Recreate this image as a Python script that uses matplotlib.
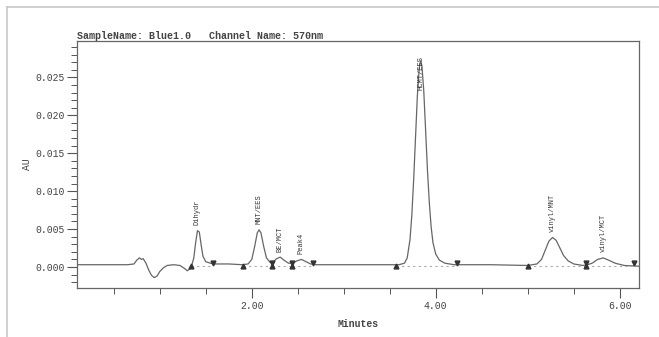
import matplotlib.pyplot as plt
from matplotlib.lines import Line2D

# ---- data ----
time_min = [0.10, 0.40, 0.65, 0.72, 0.75, 0.78, 0.80, 0.82, 0.85, 0.88, 0.91, 0.94, 0.97, 1.00,
            1.04, 1.08, 1.15, 1.22, 1.27, 1.30, 1.33, 1.35, 1.37, 1.39, 1.41, 1.43, 1.45, 1.47,
            1.50, 1.55, 1.60, 1.75, 1.90, 1.96, 2.00, 2.03, 2.06, 2.08, 2.10, 2.13, 2.16, 2.20,
            2.23, 2.27, 2.31, 2.35, 2.40, 2.44, 2.49, 2.54, 2.59, 2.64, 2.70, 3.00, 3.30, 3.60,
            3.66, 3.69, 3.72, 3.74, 3.76, 3.78, 3.80, 3.82, 3.835, 3.85, 3.87, 3.89, 3.91, 3.93,
            3.95, 3.97, 4.00, 4.04, 4.10, 4.20, 4.60, 5.00, 5.10, 5.15, 5.19, 5.23, 5.27, 5.31,
            5.35, 5.39, 5.44, 5.50, 5.60, 5.65, 5.70, 5.76, 5.82, 5.88, 5.95, 6.05, 6.21]
au = [0.0003, 0.0003, 0.0003, 0.0004, 0.0009, 0.0012, 0.0010, 0.0011, 0.0005, -0.0004, -0.0011,
      -0.0014, -0.0012, -0.0006, -0.0001, 0.0002, 0.0003, 0.0002, -0.0002, -0.0005, -0.0002,
      0.0003, 0.0012, 0.0032, 0.0048, 0.0046, 0.0029, 0.0014, 0.0007, 0.0005, 0.0004, 0.0004,
      0.0003, 0.0004, 0.0010, 0.0026, 0.0045, 0.0049, 0.0045, 0.0027, 0.0012, 0.0006, 0.0006,
      0.0011, 0.0013, 0.0009, 0.0005, 0.0005, 0.0008, 0.0010, 0.0007, 0.0004, 0.0003, 0.0003,
      0.0003, 0.0003, 0.0005, 0.0012, 0.0036, 0.0068, 0.0115, 0.0170, 0.0225, 0.0262, 0.0272,
      0.0265, 0.0232, 0.0180, 0.0128, 0.0085, 0.0053, 0.0032, 0.0017, 0.0009, 0.0005, 0.0003,
      0.0003, 0.0002, 0.0004, 0.0010, 0.0022, 0.0034, 0.0039, 0.0035, 0.0025, 0.0015, 0.0008,
      0.0004, 0.0002, 0.0003, 0.0005, 0.0010, 0.0012, 0.0009, 0.0005, 0.0002, 0.0001]

peak_names = ["Dihydr", "MNT/EES", "BE/MCT", "Peak4", "HCMT/EES", "vinyl/MNT", "vinyl/MCT"]
peak_rt = [1.41, 2.08, 2.31, 2.54, 3.835, 5.27, 5.82]
peak_top = [0.0048, 0.0049, 0.0013, 0.0010, 0.0272, 0.0039, 0.0012]

# integration baselines (start, end)
seg_start = [1.34, 1.91, 2.22, 2.44, 3.57, 5.00, 5.63]
seg_end = [1.58, 2.22, 2.44, 2.67, 4.23, 5.63, 6.15]
seg_level = 0.00015

# ---- figure ----
FONT = "Liberation Mono"
GRAY = "#555555"
fig = plt.figure(figsize=(6.59, 3.37), dpi=100)
ax = fig.add_axes([0.1168, 0.1454, 0.8529, 0.7329])

ax.plot(time_min, au, color="#666666", linewidth=0.9)

for s, e in zip(seg_start, seg_end):
    ax.plot([s, e], [seg_level, seg_level], color="#aaaaaa", linewidth=0.8,
            linestyle=(0, (2, 3)))
ax.plot(seg_start, [seg_level] * len(seg_start), linestyle="none", marker="^",
        markersize=3.5, color="#333333")
ax.plot(seg_end, [seg_level + 0.0004] * len(seg_end), linestyle="none", marker="v",
        markersize=3.5, color="#333333")

for name, rt, h in zip(peak_names, peak_rt, peak_top):
    if name == "HCMT/EES":
        ax.text(rt, 0.0278, name, rotation=90, ha="center", va="top", fontsize=5,
                family=FONT, color="#333333")
    else:
        ax.annotate(name, (rt, h), xytext=(0, 4), textcoords="offset points",
                    rotation=90, ha="center", va="bottom", fontsize=5, family=FONT,
                    color="#333333")

ax.set_xlim(0.10, 6.21)
ax.set_ylim(-0.00277, 0.0298)

ax.set_xticks([2, 4, 6])
ax.set_xticklabels(["2.00", "4.00", "6.00"])
ax.set_xticks([0.5, 1.0, 1.5, 2.5, 3.0, 3.5, 4.5, 5.0, 5.5], minor=True)
yt = [0.0, 0.005, 0.010, 0.015, 0.020, 0.025]
ax.set_yticks(yt)
ax.set_yticklabels(["%.3f" % v for v in yt])
ax.set_yticks([i * 0.001 for i in range(-2, 30) if i % 5 != 0], minor=True)

ax.tick_params(which="major", length=7, width=0.8, color=GRAY, labelsize=7,
               labelcolor="#444444", pad=2)
ax.tick_params(which="minor", length=4, width=0.7, color=GRAY)
for lab in ax.get_xticklabels() + ax.get_yticklabels():
    lab.set_family(FONT)
for sp in ax.spines.values():
    sp.set_color("#666666")
    sp.set_linewidth(0.9)

ax.set_xlabel("Minutes", family=FONT, fontsize=7, fontweight="bold", color="#444444",
              labelpad=6)
ax.set_ylabel("AU", family=FONT, fontsize=7, color="#444444", labelpad=2)
ax.set_title("SampleName: Blue1.0   Channel Name: 570nm", loc="left", family=FONT,
             fontsize=7.2, fontweight="bold", color="#444444", pad=1)

# scanned page frame
fig.add_artist(Line2D([7 / 659, 1], [1 - 7 / 337, 1 - 7 / 337], color="#c8c8c8",
                      linewidth=1.2, transform=fig.transFigure))
fig.add_artist(Line2D([7 / 659, 7 / 659], [0, 1 - 7 / 337], color="#c8c8c8",
                      linewidth=1.2, transform=fig.transFigure))

fig.savefig("out.png", dpi=100)
